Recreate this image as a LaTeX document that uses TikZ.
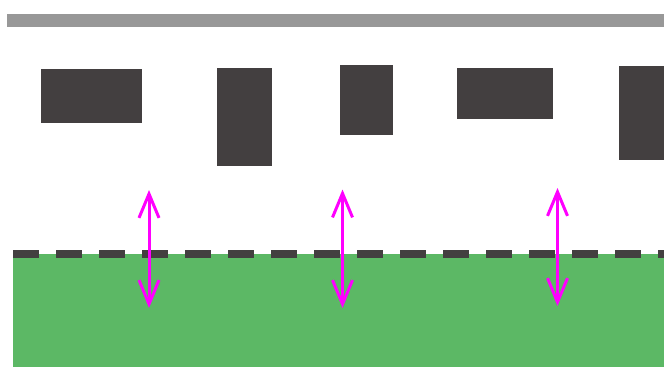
\documentclass[tikz,border=0pt]{standalone}
\usetikzlibrary{arrows.meta}
\definecolor{bargray}{HTML}{989898}
\definecolor{blockgray}{HTML}{433F40}
\definecolor{ground}{HTML}{5CB865}
\definecolor{shiftpink}{RGB}{255,0,255}
\begin{document}
\begin{tikzpicture}[x=1pt,y=-1pt,
  block/.style={fill=blockgray},
  motion/.style={shiftpink,line width=3pt,
    {Straight Barb[length=24pt,width=20pt]}-{Straight Barb[length=24pt,width=20pt]}}]
\useasboundingbox (0,0) rectangle (664,367);
% top bar
\fill[bargray] (7,14) rectangle (664,26.5);
% blocks
\fill[block] (40.5,69) rectangle (141.5,122.5);
\fill[block] (216.5,68) rectangle (271.5,165.5);
\fill[block] (339.5,65) rectangle (392.5,135);
\fill[block] (456.5,68) rectangle (552.5,119);
\fill[block] (618.5,66) rectangle (664,160);
% ground and its edge
\fill[ground] (12.5,254) rectangle (664,367);
\draw[blockgray,line width=8pt,dash pattern=on 26pt off 17pt] (13,254) -- (664,254);
% arrows
\draw[motion] (149,190) -- (149,308);
\draw[motion] (342.5,189.5) -- (342.5,308);
\draw[motion] (557.5,188) -- (557.5,306);
\end{tikzpicture}
\end{document}
